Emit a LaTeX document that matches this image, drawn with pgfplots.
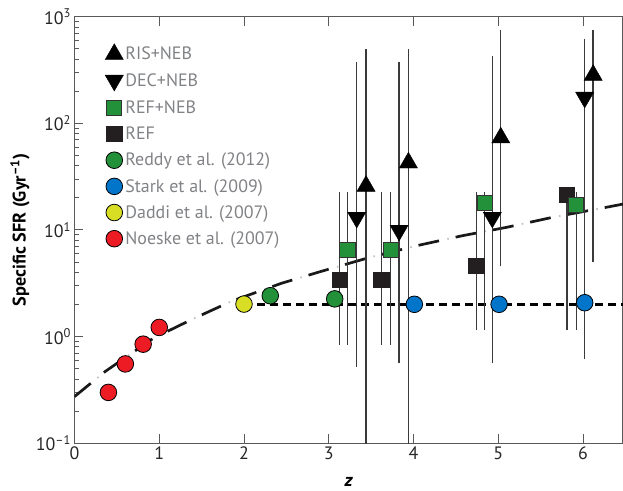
\documentclass[border=0pt]{standalone}
\usepackage{fontspec}
\setmainfont{PT Sans}
\usepackage{pgfplots}
\pgfplotsset{compat=1.18}
\definecolor{axgray}{HTML}{58595B}
\definecolor{leggray}{HTML}{808285}
\definecolor{errgray}{HTML}{3A3A3C}
\definecolor{sqblack}{HTML}{231F20}
\definecolor{cgreen}{HTML}{23913A}
\definecolor{cblue}{HTML}{0075C9}
\definecolor{cyellow}{HTML}{D7DE24}
\definecolor{cred}{HTML}{ED1C24}
\begin{document}
\begin{tikzpicture}
\begin{axis}[name=ax, scale only axis, width=548.5bp, height=426.6bp,
  ymode=log, xmin=0, xmax=6.472, ymin=0.1, ymax=1000,
  xtick={0,1,2,3,4,5,6}, xticklabels={0,1,2,3,4,5,6},
  ytick={0.1,1,10,100,1000},
  yticklabels={10\textsuperscript{–1},10\textsuperscript{0},10\textsuperscript{1},10\textsuperscript{2},10\textsuperscript{3}},
  ytick pos=left, xtick pos=both, xticklabel pos=bottom,
  major tick length=9bp, minor tick length=5bp,
  tick style={axgray, line width=1bp},
  axis line style={axgray, line width=1.3bp},
  ticklabel style={font=\fontsize{18}{20}\selectfont, text=black!85},
  xlabel={\textbf{\textit{z}}},
  ylabel={\textbf{Specific SFR (Gyr\textsuperscript{–1})}},
  label style={font=\fontsize{18.3}{20}\selectfont},
  xlabel style={at={(axis description cs:0.5,-0.091)}, anchor=center},
  ylabel style={at={(axis description cs:-0.0994,0.5)}, anchor=center},
  legend style={at={(axis description cs:0.0556,0.937)}, anchor=north west,
    draw=none, fill=none, inner sep=0pt, row sep=7.9bp, column sep=0bp,
    font=\fontsize{18}{20}\selectfont, text=leggray,
    nodes={inner sep=2bp}},
  legend cell align=left,
  legend image code/.code={\path[draw=none,fill=none] (0bp,-9bp) rectangle (16bp,9bp);
    \draw[mark repeat=2,mark phase=2,#1] plot coordinates {(2bp,0bp)(9bp,0bp)(16bp,0bp)};},
  error bars/error bar style={errgray, line width=1.4bp},
  error bars/error mark options={errgray, line width=1.4bp, mark size=3bp},
]
% legend
\addlegendimage{only marks, mark=triangle*, mark size=10.5bp, mark options={fill=black, draw=black}}
\addlegendentry{RIS+NEB}
\addlegendimage{only marks, mark=triangle*, mark size=10.5bp, mark options={fill=black, draw=black, rotate=180}}
\addlegendentry{DEC+NEB}
\addlegendimage{only marks, mark=square*, mark size=7.6bp, mark options={fill=cgreen, draw=black!80, line width=0.8bp}}
\addlegendentry{REF+NEB}
\addlegendimage{only marks, mark=square*, mark size=7.6bp, mark options={fill=sqblack, draw=sqblack}}
\addlegendentry{REF}
\addlegendimage{only marks, mark=*, mark size=8.3bp, mark options={fill=cgreen, draw=black, line width=0.8bp}}
\addlegendentry{Reddy et al. (2012)}
\addlegendimage{only marks, mark=*, mark size=8.3bp, mark options={fill=cblue, draw=black, line width=0.8bp}}
\addlegendentry{Stark et al. (2009)}
\addlegendimage{only marks, mark=*, mark size=8.3bp, mark options={fill=cyellow, draw=black, line width=0.8bp}}
\addlegendentry{Daddi et al. (2007)}
\addlegendimage{only marks, mark=*, mark size=8.3bp, mark options={fill=cred, draw=black, line width=0.8bp}}
\addlegendentry{Noeske et al. (2007)}

% fit line (gray dots in gaps, then black dashes)
\addplot[forget plot, black!25, line width=1.8bp, dash pattern=on 1.5bp off 36.5bp, dash phase=8.5bp] coordinates {
(0,0.274) (0.36,0.47) (0.93,0.966) (1.40,1.47) (1.86,2.16) (2.445,3.17) (2.9,4.07) (3.5,5.58) (4.04,7.13) (4.58,8.85) (5.10,10.6) (5.65,13.2) (6.2,15.9) (6.472,17.5)};
\addplot[forget plot, black!90, line width=2.7bp, dash pattern=on 21bp off 17bp] coordinates {
(0,0.274) (0.36,0.47) (0.93,0.966) (1.40,1.47) (1.86,2.16) (2.445,3.17) (2.9,4.07) (3.5,5.58) (4.04,7.13) (4.58,8.85) (5.10,10.6) (5.65,13.2) (6.2,15.9) (6.472,17.5)};
% constant line
\addplot[forget plot, black, line width=2.2bp, dash pattern=on 8bp off 5bp] coordinates {(2.0,2.0) (6.472,2.0)};

% RIS+NEB
\addplot[forget plot, only marks, mark=triangle*, mark size=10.5bp, mark options={fill=black, draw=black},
  error bars/.cd, y dir=both, y explicit] coordinates {
(3.44,25.8) += (0,437.2) -= (0,25.75)
(3.94,42.7) += (0,420.3) -= (0,42.65)
(5.03,73.3) += (0,622.7) -= (0,68.43)
(6.12,283) += (0,413) -= (0,277.65)};
% DEC+NEB
\addplot[forget plot, only marks, mark=triangle*, mark size=10.5bp, mark options={fill=black, draw=black, rotate=180},
  error bars/.cd, y dir=both, y explicit] coordinates {
(3.33,13.1) += (0,338.9) -= (0,12.54)
(3.83,9.9) += (0,342.1) -= (0,9.3)
(4.93,13.1) += (0,384.9) -= (0,12.5)
(6.02,175) += (0,407) -= (0,174.34)};
% REF
\addplot[forget plot, only marks, mark=square*, mark size=7.6bp, mark options={fill=sqblack, draw=sqblack},
  error bars/.cd, y dir=both, y explicit] coordinates {
(3.13,3.40) += (0,17.8) -= (0,2.5)
(3.62,3.40) += (0,17.8) -= (0,2.5)
(4.74,4.63) += (0,16.57) -= (0,3.39)
(5.81,21.3) += (0,0.01) -= (0,20.06)};
% REF+NEB
\addplot[forget plot, only marks, mark=square*, mark size=7.6bp, mark options={fill=cgreen, draw=black!80, line width=0.8bp},
  error bars/.cd, y dir=both, y explicit] coordinates {
(3.22,6.5) += (0,14.7) -= (0,5.6)
(3.73,6.5) += (0,14.7) -= (0,5.6)
(4.84,17.8) += (0,3.4) -= (0,16.56)
(5.92,17.1) += (0,4.1) -= (0,15.86)};
% Reddy
\addplot[forget plot, only marks, mark=*, mark size=8.3bp, mark options={fill=cgreen, draw=black, line width=0.8bp}] coordinates {
(2.31,2.42) (3.07,2.26)};
% Stark
\addplot[forget plot, only marks, mark=*, mark size=8.3bp, mark options={fill=cblue, draw=black, line width=0.8bp}] coordinates {
(4.01,2.01) (5.01,2.01) (6.02,2.08)};
% Daddi
\addplot[forget plot, only marks, mark=*, mark size=8.3bp, mark options={fill=cyellow, draw=black, line width=0.8bp}] coordinates {
(2.0,2.02)};
% Noeske
\addplot[forget plot, only marks, mark=*, mark size=8.3bp, mark options={fill=cred, draw=black, line width=0.8bp}] coordinates {
(0.40,0.30) (0.60,0.555) (0.81,0.85) (1.0,1.22)};
\end{axis}
\pgfresetboundingbox
\path[use as bounding box] ([xshift=-74.5bp,yshift=-47.7bp]ax.south west) rectangle ([yshift=16.7bp]ax.north east);
\end{tikzpicture}
\end{document}
